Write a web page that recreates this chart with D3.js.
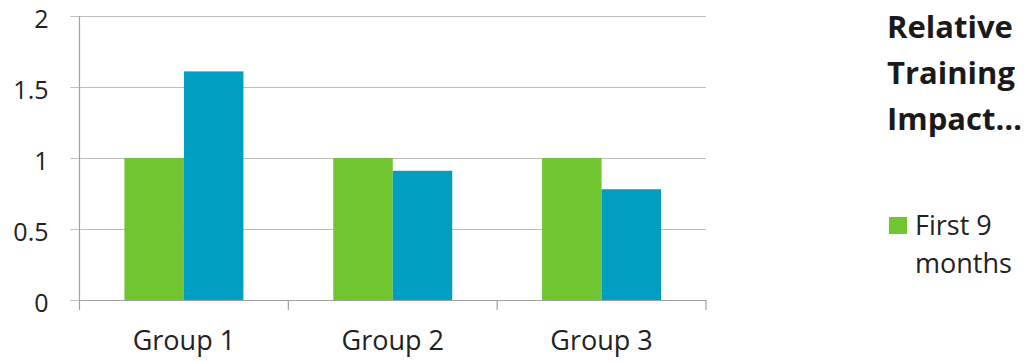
<!DOCTYPE html>
<html>
<head>
<meta charset="utf-8">
<script src="https://cdn.jsdelivr.net/npm/d3@7"></script>
<style>
  body { margin: 0; background: #fff; }
  svg text { font-family: "Open Sans", sans-serif; }
</style>
</head>
<body>
<svg id="chart" width="1027" height="362"></svg>
<script>
// data
const groups = ['Group 1', 'Group 2', 'Group 3'];
const series = ['First 9 months', 'Next period'];
const firstPeriod = [1, 1, 1];
const secondPeriod = [1.61, 0.91, 0.78];
const yTicks = [0, 0.5, 1, 1.5, 2];
const titleLines = ['Relative', 'Training', 'Impact…'];
const legendLines = ['First 9', 'months'];

const colors = ['#70c530', '#009fc2'];

const margin = { top: 16, left: 79.5, right: 321, bottom: 62 };
const width = 1027 - margin.left - margin.right;
const height = 362 - margin.top - margin.bottom;

const svg = d3.select('#chart');
const g = svg.append('g')
    .attr('transform', `translate(${margin.left},${margin.top})`);

const x = d3.scaleBand()
    .domain(groups)
    .range([0, width]);

// two bars per group, centred, ~57% of the band
const x1 = d3.scaleBand()
    .domain(series)
    .range([0, x.bandwidth()])
    .paddingOuter(0.755);

const y = d3.scaleLinear()
    .domain([0, 2])
    .range([height, 0]);

// gridlines + y labels
const yAxis = g.append('g')
    .attr('transform', 'translate(-9,0)')
    .call(d3.axisLeft(y).tickValues(yTicks).tickFormat(d3.format('')).tickSize(-width - 9).tickPadding(22));
yAxis.select('.domain').remove();
yAxis.selectAll('.tick line').attr('stroke', '#bdbdbd').attr('stroke-width', 1.2);
yAxis.selectAll('.tick text')
    .attr('font-size', 25)
    .attr('fill', '#222')
    .attr('dy', '0.45em');

// bars
const rows = groups.map((grp, i) => ({ grp, vals: [firstPeriod[i], secondPeriod[i]] }));
g.selectAll('.grp')
    .data(rows)
  .join('g')
    .attr('class', 'grp')
    .attr('transform', d => `translate(${x(d.grp)},0)`)
  .selectAll('rect')
    .data(d => d.vals.map((v, j) => ({ key: series[j], v, j })))
  .join('rect')
    .attr('x', d => x1(d.key))
    .attr('width', x1.bandwidth())
    .attr('y', d => y(d.v))
    .attr('height', d => y(0) - y(d.v))
    .attr('fill', d => colors[d.j]);

// vertical axis line
g.append('line')
    .attr('x1', 0).attr('x2', 0)
    .attr('y1', 0).attr('y2', height + 10)
    .attr('stroke', '#a0a0a0').attr('stroke-width', 1.2);

// x axis
const xAxis = g.append('g')
    .attr('transform', `translate(0,${height})`)
    .call(d3.axisBottom(x).tickSize(0).tickPadding(31));
xAxis.select('.domain').attr('stroke', '#a0a0a0').attr('stroke-width', 1.2);
xAxis.selectAll('.tick text').attr('font-size', 27).attr('fill', '#222');
xAxis.selectAll('.sep')
    .data(groups)
  .join('line')
    .attr('class', 'sep')
    .attr('x1', d => x(d) + x.bandwidth()).attr('x2', d => x(d) + x.bandwidth())
    .attr('y1', 0).attr('y2', 10)
    .attr('stroke', '#a0a0a0').attr('stroke-width', 1.2);

// title
svg.append('text')
    .attr('x', 887)
    .attr('y', 38)
    .attr('font-size', 31)
    .attr('font-weight', 'bold')
    .attr('fill', '#1a1a1a')
  .selectAll('tspan')
    .data(titleLines)
  .join('tspan')
    .attr('x', 887)
    .attr('dy', (d, i) => i === 0 ? 0 : 46)
    .text(d => d);

// legend
svg.append('rect')
    .attr('x', 889).attr('y', 217)
    .attr('width', 18).attr('height', 17)
    .attr('fill', colors[0]);
svg.append('text')
    .attr('x', 915)
    .attr('y', 235)
    .attr('font-size', 27)
    .attr('fill', '#222')
  .selectAll('tspan')
    .data(legendLines)
  .join('tspan')
    .attr('x', 915)
    .attr('dy', (d, i) => i === 0 ? 0 : 38)
    .text(d => d);
</script>
</body>
</html>
